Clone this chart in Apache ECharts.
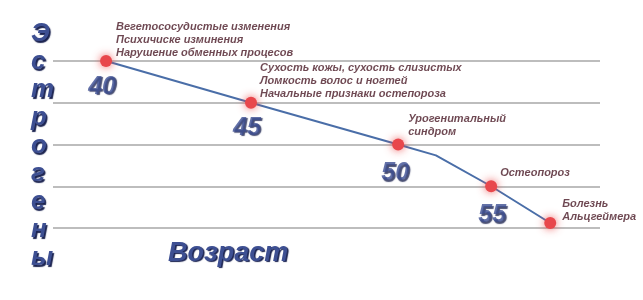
<!DOCTYPE html>
<html>
<head>
<meta charset="utf-8">
<script src="https://cdn.jsdelivr.net/npm/echarts@6/dist/echarts.min.js"></script>
<style>
html,body{margin:0;padding:0;background:#fff;}
#chart{width:643px;height:300px;}
</style>
</head>
<body>
<div id="chart"></div>
<script>
// Horizontal position along the age axis (0–100 scale of the plot width)
const agePosition = [9.7, 36.2, 63.1, 70.0, 80.1, 90.9];
// Estrogen level (gridline units, 0–4)
const estrogenLevel = [4, 3, 2, 1.74, 1, 0.12];
// Age labels for each point ('' = no label)
const ageLabels = ['40', '45', '50', '', '55', ''];
// Symptom descriptions for each point
const descriptions = [
  'Вегетососудистые изменения\nПсихичиске изминения\nНарушение обменных процесов',
  'Сухость кожы, сухость слизистых\nЛомкость волос и ногтей\nНачальные признаки остепороза',
  'Урогенитальный\nсиндром',
  '',
  'Остеопороз',
  'Болезнь\nАльцгеймера'
];
const yTitle = 'Эстрогены';
const xTitle = 'Возраст';

// label offsets (layout only)
const ageOffsets = [[-4, 26], [-4, 25], [-3, 29], [0, 0], [1, 29], [0, 0]];
const descOffsets = [[10, -1.5], [9, -2.5], [10, -6.5], [0, 0], [9, -6.5], [12, 0.5]];

const chart = echarts.init(document.getElementById('chart'), null, {renderer: 'canvas'});

const mainData = agePosition.map((x, i) => {
  const d = {value: [x, estrogenLevel[i]]};
  if (ageLabels[i] === '' && descriptions[i] === '') {
    d.symbol = 'none';
  }
  return d;
});

const ageData = agePosition.map((x, i) => ({
  value: [x, estrogenLevel[i]],
  label: {formatter: ageLabels[i], offset: ageOffsets[i]}
}));

const descData = agePosition.map((x, i) => ({
  value: [x, estrogenLevel[i]],
  label: {formatter: descriptions[i], offset: descOffsets[i]}
}));

chart.setOption({
  animation: false,
  backgroundColor: '#ffffff',
  grid: {left: 53, right: 43, top: 61, bottom: 72},
  xAxis: {
    type: 'value', min: 0, max: 100,
    show: false
  },
  yAxis: {
    type: 'value', min: 0, max: 4, interval: 1,
    axisLine: {show: false}, axisTick: {show: false}, axisLabel: {show: false},
    splitLine: {show: true, lineStyle: {color: '#bdbdbd', width: 2}}
  },
  title: {
    text: xTitle,
    left: 163, top: 235,
    textStyle: {
      fontFamily: 'Liberation Sans', fontStyle: 'italic', fontWeight: 'bold',
      fontSize: 27, color: '#3d4f92',
      textShadowColor: '#1b2350', textShadowOffsetX: 1.5, textShadowOffsetY: 1.5, textShadowBlur: 1
    }
  },
  graphic: [{
    type: 'text',
    left: 31, top: 20,
    style: {
      text: yTitle.split('').join('\n'),
      font: 'italic bold 26px "Liberation Sans"',
      lineHeight: 28,
      align: 'center',
      fill: '#3d4f92',
      textShadowColor: '#1b2350', textShadowOffsetX: 1.5, textShadowOffsetY: 1.5, textShadowBlur: 1
    }
  }],
  series: [
    {
      type: 'line',
      data: mainData,
      symbol: 'circle',
      symbolSize: 12,
      lineStyle: {color: '#4a6ea8', width: 2},
      itemStyle: {
        color: '#e8474c',
        shadowBlur: 9, shadowColor: 'rgba(235,70,70,0.85)'
      },
      z: 3
    },
    {
      type: 'scatter',
      data: ageData,
      symbolSize: 1,
      itemStyle: {color: 'rgba(0,0,0,0)'},
      silent: true,
      label: {
        show: true, position: 'inside',
        align: 'center', verticalAlign: 'middle',
        fontFamily: 'Liberation Sans', fontStyle: 'italic', fontWeight: 'bold',
        fontSize: 25, color: '#3d4f92',
        textShadowColor: '#1b2350', textShadowOffsetX: 1.5, textShadowOffsetY: 1.5, textShadowBlur: 1
      },
      z: 4
    },
    {
      type: 'scatter',
      data: descData,
      symbolSize: 1,
      itemStyle: {color: 'rgba(0,0,0,0)'},
      silent: true,
      label: {
        show: true, position: 'inside',
        align: 'left', verticalAlign: 'bottom',
        lineHeight: 13,
        fontFamily: 'Liberation Sans', fontStyle: 'italic', fontWeight: 'bold',
        fontSize: 11, color: '#4a1a27'
      },
      z: 4
    }
  ]
});
</script>
</body>
</html>
